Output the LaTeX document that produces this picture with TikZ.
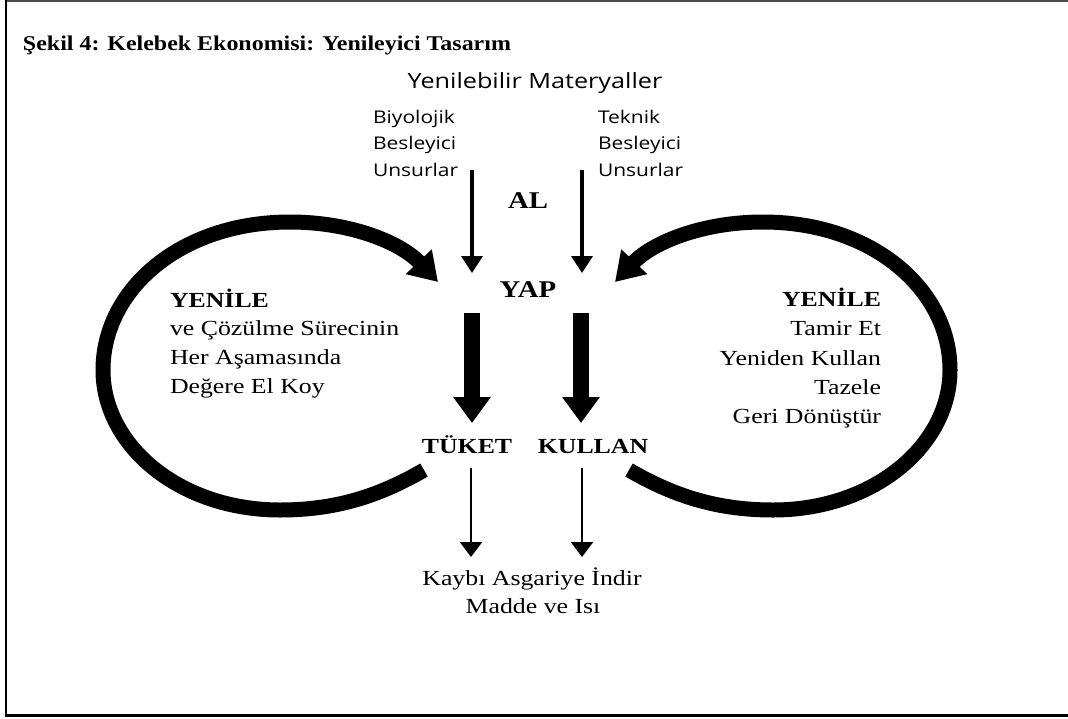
\documentclass[tikz,border=0pt]{standalone}
\usepackage{fontspec}
\setmainfont{Liberation Serif}[FakeStretch=1.2]
\newfontfamily\captionfont{Liberation Serif}[FakeStretch=1.14]
\newfontfamily\labelsans{Open Sans}[FakeStretch=1.2]
\usetikzlibrary{arrows.meta}

\begin{document}
\begin{tikzpicture}[x=1pt,y=-1pt,
  every node/.style={inner sep=0pt,outer sep=0pt},
  title/.style={font=\captionfont\fontsize{21}{25}\selectfont\bfseries},
  sanslbl/.style={font=\labelsans\fontsize{17.5}{22}\selectfont},
  sanshead/.style={font=\labelsans\fontsize{21}{25}\selectfont},
  stage/.style={font=\fontsize{24}{28}\selectfont\bfseries},
  stagesm/.style={font=\fontsize{21.5}{26}\selectfont\bfseries},
  body/.style={font=\fontsize{21.5}{26}\selectfont},
  bodyb/.style={font=\fontsize{21.5}{26}\selectfont\bfseries},
  thinarrow/.style={line width=3.5pt,-{Triangle[length=17pt,width=21pt]}},
  lowarrow/.style={line width=2.5pt,-{Triangle[length=15pt,width=22pt]}},
  thickarrow/.style={line width=16pt,-{Triangle[length=26pt,width=36pt]}},
  looparrow/.style={line width=15pt,-{Triangle[length=28pt,width=34pt]}}
]
\useasboundingbox (0,0) rectangle (1068,718);

% frame
\draw[line width=1.5pt,black!70] (6,1) -- (1070,1);
\draw[line width=2pt] (6,0) -- (6,715);
\draw[line width=3pt] (5,715) -- (1070,715);

% caption
\node[title,anchor=base west] (cap) at (23,50) {Şekil 4: Kelebek Ekonomisi: Yenileyici Tasarım};

% inputs
\node[sanshead,anchor=base] (mat) at (535,88) {Yenilebilir Materyaller};
\node[sanslbl,anchor=base west] (bio1) at (373,123) {Biyolojik};
\node[sanslbl,anchor=base west] (bio2) at (373,149.5) {Besleyici};
\node[sanslbl,anchor=base west] (bio3) at (373,176) {Unsurlar};
\node[sanslbl,anchor=base west] (tek1) at (598,123) {Teknik};
\node[sanslbl,anchor=base west] (tek2) at (598,149.5) {Besleyici};
\node[sanslbl,anchor=base west] (tek3) at (598,176) {Unsurlar};

% stages
\node[stage,anchor=base] (al) at (528,208) {AL};
\node[stage,anchor=base] (yap) at (528,297) {YAP};
\node[stagesm,anchor=base] (tuket) at (467,453) {TÜKET};
\node[stagesm,anchor=base] (kullan) at (593,453) {KULLAN};

% losses
\node[body,anchor=base] (loss1) at (532,585) {Kaybı Asgariye İndir};
\node[body,anchor=base] (loss2) at (533,613) {Madde ve Isı};

% left loop text
\node[bodyb,anchor=base west] (l0) at (170,307) {YENİLE};
\node[body,anchor=base west] (l1) at (170,335) {ve Çözülme Sürecinin};
\node[body,anchor=base west] (l2) at (170,364) {Her Aşamasında};
\node[body,anchor=base west] (l3) at (170,393) {Değere El Koy};

% right loop text
\node[bodyb,anchor=base east] (r0) at (881,306) {YENİLE};
\node[body,anchor=base east] (r1) at (881,335) {Tamir Et};
\node[body,anchor=base east] (r2) at (881,365) {Yeniden Kullan};
\node[body,anchor=base east] (r3) at (881,394) {Tazele};
\node[body,anchor=base east] (r4) at (881,423) {Geri Dönüştür};

% arrow end points
\coordinate (bioS) at (472,170);  \coordinate (bioE) at (472,273);
\coordinate (tekS) at (582,170);  \coordinate (tekE) at (582,273);
\coordinate (mkL) at (472,313);   \coordinate (mkLE) at (472,423);
\coordinate (mkR) at (581,313);   \coordinate (mkRE) at (581,423);
\coordinate (lsL) at (471,468);   \coordinate (lsLE) at (471,557);
\coordinate (lsR) at (582,468);   \coordinate (lsRE) at (582,557);

\draw[thinarrow] (bioS) -- (bioE);
\draw[thinarrow] (tekS) -- (tekE);
\draw[thickarrow] (mkL) -- (mkLE);
\draw[thickarrow] (mkR) -- (mkRE);
\draw[lowarrow] (lsL) -- (lsLE);
\draw[lowarrow] (lsR) -- (lsRE);

% renewal loop, drawn on the left and mirrored on the right
\tikzset{loopshape/.style={looparrow}}
\draw[loopshape] (424,470) .. controls (376,498) and (332,510) .. (280,510)
  .. controls (180,510) and (103,446) .. (103,370)
  .. controls (103,290) and (180,222) .. (290,222)
  .. controls (350,222) and (400,242) .. (438,282);

\begin{scope}[xshift=1053pt,xscale=-1]
\draw[loopshape] (424,470) .. controls (376,498) and (332,510) .. (280,510)
  .. controls (180,510) and (103,446) .. (103,370)
  .. controls (103,290) and (180,222) .. (290,222)
  .. controls (350,222) and (400,242) .. (438,282);
\end{scope}
\end{tikzpicture}
\end{document}
